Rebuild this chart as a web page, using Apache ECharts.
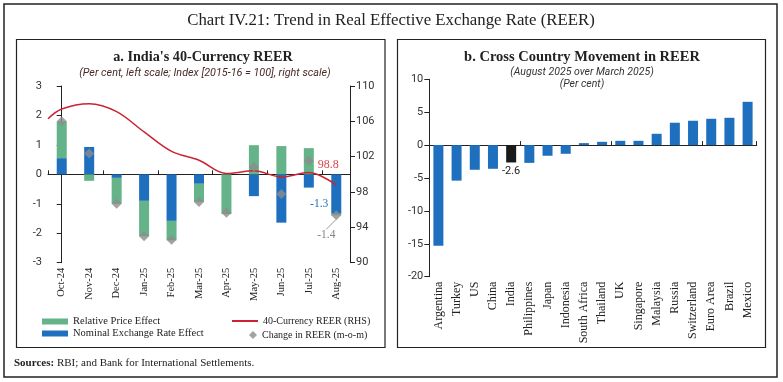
<!DOCTYPE html>
<html><head><meta charset="utf-8">
<script src="https://cdn.jsdelivr.net/npm/echarts@6/dist/echarts.min.js"></script>
<style>html,body{margin:0;padding:0;background:#fff}#c{width:783px;height:382px}</style>
</head><body><div id="c"></div>
<script>
// ---- Panel a data ----
const months = ['Oct-24','Nov-24','Dec-24','Jan-25','Feb-25','Mar-25','Apr-25','May-25','Jun-25','Jul-25','Aug-25'];
const relativePriceEffect = [1.25,-0.22,-0.88,-1.20,-0.66,-0.62,-1.35,0.99,0.96,0.89,-0.05];
const nominalExchangeEffect = [0.55,0.93,-0.12,-0.90,-1.58,-0.32,0.00,-0.74,-1.64,-0.45,-1.34];
const changeInReer = [1.80,0.71,-1.00,-2.10,-2.22,-0.94,-1.30,0.25,-0.67,0.46,-1.39];
const reerStart = 106.3;           // index value at left edge of the plot
const reerIndex = [107.4,108.0,107.1,104.8,102.6,101.6,100.1,100.4,99.7,100.2,98.8];
// ---- Panel b data ----
const countries = ['Argentina','Turkey','US','China','India','Philippines','Japan','Indonesia','South Africa','Thailand','UK','Singapore','Malaysia','Russia','Switzerland','Euro Area','Brazil','Mexico'];
const reerMovement = [-15.3,-5.4,-3.75,-3.6,-2.64,-2.7,-1.62,-1.32,0.3,0.5,0.65,0.65,1.72,3.4,3.7,4.0,4.15,6.58];

const GREEN = '#65b389', BLUE = '#1f6fbf', RED = '#cc2233', GRAY = '#8c8c8c';
const SERIF = 'Liberation Serif', SANS = 'Roboto';

const chart = echarts.init(document.getElementById('c'));
const axisBlack = {lineStyle:{color:'#222', width:1}};

const reerLine = [[-0.5, reerStart]].concat(reerIndex.map((v,i)=>[i,v]));

const option = {
  animation:false,
  backgroundColor:'#fff',
  graphic:[
    {type:'rect', shape:{x:4,y:4,width:773,height:373}, style:{fill:'none',stroke:'#222',lineWidth:1.5}, silent:true},
    {type:'rect', shape:{x:16.5,y:39.5,width:368.5,height:308}, style:{fill:'none',stroke:'#222',lineWidth:1.2}, silent:true},
    {type:'rect', shape:{x:397.5,y:39.5,width:368,height:308}, style:{fill:'none',stroke:'#222',lineWidth:1.2}, silent:true},
    {type:'text', style:{text:'Chart IV.21: Trend in Real Effective Exchange Rate (REER)', x:391, y:21, align:'center', verticalAlign:'middle', font:'16.8px "Liberation Serif"', fill:'#222'}},
    {type:'text', style:{text:"a. India's 40-Currency REER", x:203, y:57, align:'center', verticalAlign:'middle', font:'bold 14.2px "Liberation Serif"', fill:'#222'}},
    {type:'text', style:{text:'(Per cent, left scale; Index [2015-16 = 100], right scale)', x:205, y:73, align:'center', verticalAlign:'middle', font:'italic 10.8px Roboto', fill:'#4a2a2a'}},
    {type:'text', style:{text:'b. Cross Country Movement in REER', x:582, y:57, align:'center', verticalAlign:'middle', font:'bold 14.5px "Liberation Serif"', fill:'#222'}},
    {type:'text', style:{text:'(August 2025 over March 2025)', x:582, y:72, align:'center', verticalAlign:'middle', font:'italic 10.5px Roboto', fill:'#333'}},
    {type:'text', style:{text:'(Per cent)', x:582, y:84, align:'center', verticalAlign:'middle', font:'italic 10.5px Roboto', fill:'#333'}},
    {type:'text', style:{text:'{b|Sources:} RBI; and Bank for International Settlements.', x:14, y:363, align:'left', verticalAlign:'middle', font:'11px "Liberation Serif"', fill:'#222', rich:{b:{fontWeight:'bold', fontFamily:SERIF, fontSize:11}}}}
  ],
  legend:[
    {data:['Relative Price Effect','Nominal Exchange Rate Effect'], orient:'vertical', left:37, top:311, itemWidth:26, itemHeight:6, itemGap:1, icon:'rect', selectedMode:false, textStyle:{fontFamily:SERIF, fontSize:10.5, color:'#222'}},
    {data:['40-Currency REER (RHS)'], left:227, top:311, itemWidth:26, itemHeight:2, icon:'rect', selectedMode:false, textStyle:{fontFamily:SERIF, fontSize:10, color:'#222'}},
    {data:['Change in REER (m-o-m)'], left:244, top:325, itemWidth:8, itemHeight:8, icon:'diamond', selectedMode:false, textStyle:{fontFamily:SERIF, fontSize:10, color:'#222'}}
  ],
  grid:[
    {left:48, right:433, top:86, bottom:119.3, containLabel:false},
    {left:429.3, right:26.3, top:79.3, bottom:105.3, containLabel:false}
  ],
  xAxis:[
    {type:'category', gridIndex:0, data:months, position:'bottom', axisLine:{show:false, onZero:false}, axisTick:{show:false},
     axisLabel:{rotate:90, margin:5, fontFamily:SERIF, fontSize:10.5, color:'#222', interval:0}},
    {type:'category', gridIndex:0, data:months, axisLine:{show:true, onZero:true, onZeroAxisIndex:0, ...axisBlack}, axisTick:{show:true, length:4, inside:false, lineStyle:{color:'#222'}}, axisLabel:{show:false}},
    {type:'value', gridIndex:0, min:-0.5, max:10.5, show:false},
    {type:'category', gridIndex:1, data:countries, position:'bottom', axisLine:{show:false, onZero:false}, axisTick:{show:false},
     axisLabel:{rotate:90, margin:5, fontFamily:SERIF, fontSize:12, color:'#222', interval:0}},
    {type:'category', gridIndex:1, data:countries, axisLine:{show:true, onZero:true, ...axisBlack}, axisTick:{show:true, length:4, lineStyle:{color:'#222'}}, axisLabel:{show:false}}
  ],
  yAxis:[
    {type:'value', gridIndex:0, min:-3, max:3, interval:1, position:'left', axisLine:{show:true, ...axisBlack}, axisTick:{show:true, length:5, lineStyle:{color:'#222'}}, splitLine:{show:false},
     axisLabel:{fontFamily:SANS, fontSize:11, color:'#333', margin:6}},
    {type:'value', gridIndex:0, min:90, max:110, interval:4, position:'right', axisLine:{show:true, ...axisBlack}, axisTick:{show:true, length:5, lineStyle:{color:'#222'}}, splitLine:{show:false},
     axisLabel:{fontFamily:SANS, fontSize:11, color:'#333', margin:6}},
    {type:'value', gridIndex:1, min:-20, max:10, interval:5, position:'left', axisLine:{show:true, ...axisBlack}, axisTick:{show:true, length:5, lineStyle:{color:'#222'}}, splitLine:{show:false},
     axisLabel:{fontFamily:SANS, fontSize:11, color:'#333', margin:6}}
  ],
  series:[
    {name:'Nominal Exchange Rate Effect', type:'bar', xAxisIndex:0, yAxisIndex:0, stack:'a', barWidth:10, itemStyle:{color:BLUE},
     data:nominalExchangeEffect.map((v,i)=> i===months.length-1 ? {value:v, label:{show:true, position:'left', offset:[2,10], color:BLUE, fontFamily:SERIF, fontSize:11.5, formatter:p=>p.value.toFixed(1)}} : v)},
    {name:'Relative Price Effect', type:'bar', xAxisIndex:0, yAxisIndex:0, stack:'a', barWidth:10, itemStyle:{color:GREEN}, data:relativePriceEffect},
    {name:'40-Currency REER (RHS)', type:'line', xAxisIndex:2, yAxisIndex:1, smooth:0.35, showSymbol:true, symbol:'circle', symbolSize:0, lineStyle:{color:RED, width:1.5}, itemStyle:{color:RED}, z:3,
     data:reerLine.map((d,i)=> i===reerLine.length-1 ? {value:d, label:{show:true, position:'top', offset:[-8,-9], color:'#d9464d', fontFamily:SERIF, fontSize:12, formatter:p=>p.value[1].toFixed(1)}} : d)},
    {name:'Change in REER (m-o-m)', type:'scatter', xAxisIndex:0, yAxisIndex:0, symbol:'diamond', symbolSize:10, itemStyle:{color:GRAY}, z:4,
     labelLine:{show:true, lineStyle:{color:'#999', width:1}},
     labelLayout:p=> p.dataIndex===months.length-1 ? {dx:-10, dy:4} : {},
     data:changeInReer.map((v,i)=> i===months.length-1 ? {value:v, label:{show:true, position:'bottom', distance:5, color:'#666', fontFamily:SERIF, fontSize:11.5, formatter:p=>p.value.toFixed(1)}} : v)},
    {name:'REER movement', type:'bar', xAxisIndex:3, yAxisIndex:2, barWidth:10,
     data:reerMovement.map((v,i)=> countries[i]==='India' ? {value:v, itemStyle:{color:'#1a1a1a'}, label:{show:true, position:'bottom', distance:3, color:'#222', fontFamily:SANS, fontSize:11, formatter:p=>p.value.toFixed(1)}} : {value:v, itemStyle:{color:BLUE}})}
  ]
};
chart.setOption(option);
</script></body></html>
